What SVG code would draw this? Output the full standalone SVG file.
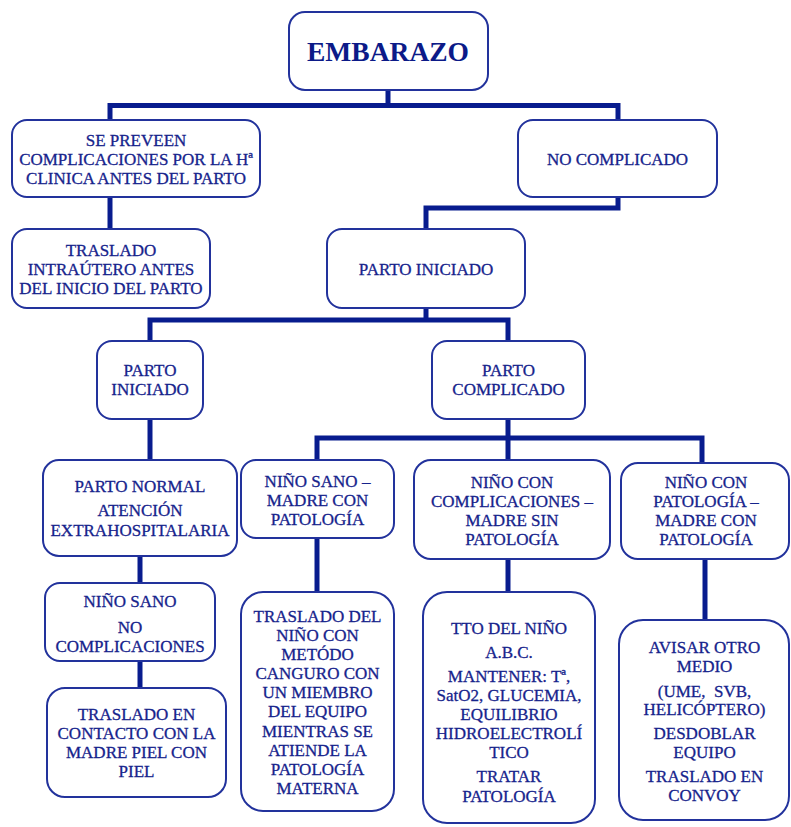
<svg xmlns="http://www.w3.org/2000/svg" width="791" height="827" viewBox="0 0 791 827">
<style>
.box{fill:#ffffff;stroke:#22329c;stroke-width:2}
.t{font-family:"Liberation Serif","Times New Roman",serif;font-size:17px;fill:#16238c;stroke:#16238c;stroke-width:0.3;text-anchor:middle}
.title{font-family:"Liberation Serif","Times New Roman",serif;font-size:27.5px;font-weight:bold;fill:#0c1a88;text-anchor:middle}
.c{fill:none;stroke:#081c8e;stroke-width:5;stroke-linejoin:miter;stroke-linecap:butt}
</style>
<rect width="791" height="827" fill="#ffffff"/>
<g id="connectors">
<path class="c" d="M388 90 V105.5 M110 120 V105.5 H618 V120"/>
<path class="c" d="M110 197 V229"/>
<path class="c" d="M618 197 V208 H426 V229"/>
<path class="c" d="M426 308 V320 M150 341 V320 H508 V341"/>
<path class="c" d="M150 419 V460"/>
<path class="c" d="M508 419 V438 M317 460 V438 H702 V463 M508 438 V460"/>
<path class="c" d="M140 556 V583"/>
<path class="c" d="M140 661 V688"/>
<path class="c" d="M317 538 V592"/>
<path class="c" d="M508 559 V592"/>
<path class="c" d="M705 559 V620"/>
</g>
<g id="embarazo">
<rect class="box" x="289" y="12" width="199" height="78" rx="16"/>
<text class="title" x="388" y="61">EMBARAZO</text>
</g>
<g id="se-preveen">
<rect class="box" x="12" y="120" width="248" height="77" rx="15"/>
<text class="t" x="136" y="146">SE PREVEEN</text>
<text class="t" x="136" y="165">COMPLICACIONES POR LA Hª</text>
<text class="t" x="136" y="184">CLINICA ANTES DEL PARTO</text>
</g>
<g id="no-complicado">
<rect class="box" x="518" y="120" width="199" height="77" rx="15"/>
<text class="t" x="617.5" y="165">NO COMPLICADO</text>
</g>
<g id="traslado-intrautero">
<rect class="box" x="12" y="229" width="198" height="79" rx="15"/>
<text class="t" x="111" y="256">TRASLADO</text>
<text class="t" x="111" y="275">INTRAÚTERO ANTES</text>
<text class="t" x="111" y="294">DEL INICIO DEL PARTO</text>
</g>
<g id="parto-iniciado-1">
<rect class="box" x="327" y="229" width="198" height="79" rx="15"/>
<text class="t" x="426" y="275">PARTO INICIADO</text>
</g>
<g id="parto-iniciado-2">
<rect class="box" x="97" y="341" width="106" height="78" rx="15"/>
<text class="t" x="150" y="376">PARTO</text>
<text class="t" x="150" y="395">INICIADO</text>
</g>
<g id="parto-complicado">
<rect class="box" x="432" y="341" width="153" height="78" rx="15"/>
<text class="t" x="508.5" y="376">PARTO</text>
<text class="t" x="508.5" y="395">COMPLICADO</text>
</g>
<g id="parto-normal">
<rect class="box" x="43" y="460" width="194" height="96" rx="16"/>
<text class="t" x="140" y="492">PARTO NORMAL</text>
<text class="t" x="140" y="516">ATENCIÓN</text>
<text class="t" x="140" y="536">EXTRAHOSPITALARIA</text>
</g>
<g id="nino-sano-madre-patologia">
<rect class="box" x="241" y="460" width="153" height="78" rx="15"/>
<text class="t" x="317.5" y="487">NIÑO SANO –</text>
<text class="t" x="317.5" y="506">MADRE CON</text>
<text class="t" x="317.5" y="525">PATOLOGÍA</text>
</g>
<g id="nino-complicaciones">
<rect class="box" x="414" y="460" width="196" height="99" rx="17"/>
<text class="t" x="512" y="488">NIÑO CON</text>
<text class="t" x="512" y="507">COMPLICACIONES –</text>
<text class="t" x="512" y="526">MADRE SIN</text>
<text class="t" x="512" y="545">PATOLOGÍA</text>
</g>
<g id="nino-patologia">
<rect class="box" x="621" y="463" width="168" height="96" rx="17"/>
<text class="t" x="706" y="488">NIÑO CON</text>
<text class="t" x="706" y="507">PATOLOGÍA –</text>
<text class="t" x="706" y="526">MADRE CON</text>
<text class="t" x="706" y="545">PATOLOGÍA</text>
</g>
<g id="nino-sano-no-complicaciones">
<rect class="box" x="45" y="583" width="170" height="78" rx="15"/>
<text class="t" x="130" y="607">NIÑO SANO</text>
<text class="t" x="130" y="633">NO</text>
<text class="t" x="130" y="652">COMPLICACIONES</text>
</g>
<g id="traslado-contacto">
<rect class="box" x="47" y="688" width="179" height="109" rx="18"/>
<text class="t" x="136.5" y="720">TRASLADO EN</text>
<text class="t" x="136.5" y="739">CONTACTO CON LA</text>
<text class="t" x="136.5" y="758">MADRE PIEL CON</text>
<text class="t" x="136.5" y="777">PIEL</text>
</g>
<g id="traslado-canguro">
<rect class="box" x="241" y="592" width="153" height="219" rx="22"/>
<text class="t" x="317.5" y="622">TRASLADO DEL</text>
<text class="t" x="317.5" y="641">NIÑO CON</text>
<text class="t" x="317.5" y="660">METÓDO</text>
<text class="t" x="317.5" y="679">CANGURO CON</text>
<text class="t" x="317.5" y="698">UN MIEMBRO</text>
<text class="t" x="317.5" y="717">DEL EQUIPO</text>
<text class="t" x="317.5" y="737">MIENTRAS SE</text>
<text class="t" x="317.5" y="756">ATIENDE LA</text>
<text class="t" x="317.5" y="775">PATOLOGÍA</text>
<text class="t" x="317.5" y="794">MATERNA</text>
</g>
<g id="tto-nino">
<rect class="box" x="423" y="592" width="172" height="231" rx="24"/>
<text class="t" x="509" y="634">TTO DEL NIÑO</text>
<text class="t" x="509" y="658">A.B.C.</text>
<text class="t" x="509" y="682">MANTENER: Tª,</text>
<text class="t" x="509" y="701">SatO2, GLUCEMIA,</text>
<text class="t" x="509" y="720">EQUILIBRIO</text>
<text class="t" x="509" y="739">HIDROELECTROLÍ</text>
<text class="t" x="509" y="758">TICO</text>
<text class="t" x="509" y="782">TRATAR</text>
<text class="t" x="509" y="802">PATOLOGÍA</text>
</g>
<g id="avisar">
<rect class="box" x="619" y="620" width="170" height="200" rx="24"/>
<text class="t" x="704.5" y="653">AVISAR OTRO</text>
<text class="t" x="704.5" y="672">MEDIO</text>
<text class="t" x="704.5" y="697" xml:space="preserve">(UME,  SVB,</text>
<text class="t" x="704.5" y="715">HELICÓPTERO)</text>
<text class="t" x="704.5" y="739">DESDOBLAR</text>
<text class="t" x="704.5" y="758">EQUIPO</text>
<text class="t" x="704.5" y="782">TRASLADO EN</text>
<text class="t" x="704.5" y="801">CONVOY</text>
</g>
</svg>
